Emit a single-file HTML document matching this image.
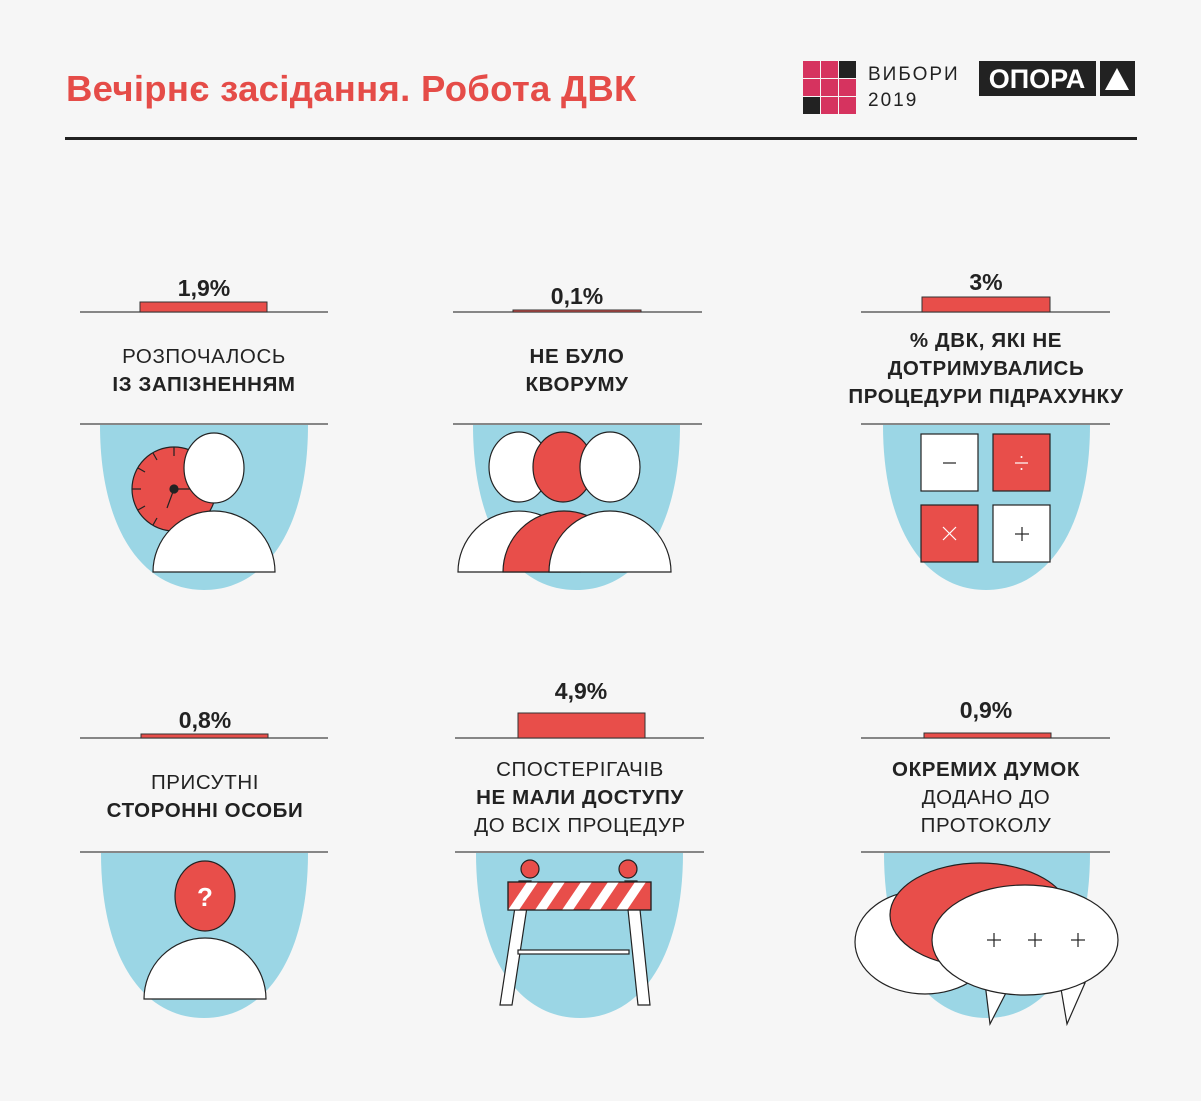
<!DOCTYPE html>
<html><head><meta charset="utf-8"><style>
html,body{margin:0;padding:0;background:#f6f6f6}
svg{display:block}
text{font-family:"Liberation Sans","DejaVu Sans",sans-serif;fill:#222}
.p{font-size:23px;font-weight:bold;text-anchor:middle}
.t{font-size:20.5px;text-anchor:middle;letter-spacing:0.6px}
.b{font-weight:bold}
</style></head><body>
<svg width="1201" height="1101" viewBox="0 0 1201 1101" xmlns="http://www.w3.org/2000/svg">
<rect width="1201" height="1101" fill="#f6f6f6"/>
<text x="66" y="101" style="font-size:36.5px;font-weight:bold;fill:#e54c48;letter-spacing:0.3px">Вечірнє засідання. Робота ДВК</text>
<rect x="65" y="137" width="1072" height="3" fill="#222"/>
<g>
<g fill="#d6335f">
<rect x="803" y="61" width="17" height="17"/><rect x="821" y="61" width="17" height="17"/>
<rect x="803" y="79" width="17" height="17"/><rect x="821" y="79" width="17" height="17"/><rect x="839" y="79" width="17" height="17"/>
<rect x="821" y="97" width="17" height="17"/><rect x="839" y="97" width="17" height="17"/></g>
<rect x="839" y="61" width="17" height="17" fill="#222"/><rect x="803" y="97" width="17" height="17" fill="#222"/>
<text x="868" y="80" style="font-size:19px;letter-spacing:2px">ВИБОРИ</text>
<text x="868" y="106" style="font-size:19px;letter-spacing:2px">2019</text>
<rect x="979" y="61" width="117" height="35" fill="#222"/>
<text x="1037" y="88" style="font-size:27px;font-weight:bold;fill:#fff;text-anchor:middle">ОПОРА</text>
<rect x="1100" y="61" width="35" height="35" fill="#222"/>
<polygon points="1117,68 1129,90 1105,90" fill="#fff"/>
</g>

<g stroke="#444" stroke-width="1.3">
<line x1="80" y1="312" x2="328" y2="312"/><line x1="453" y1="312" x2="702" y2="312"/><line x1="861" y1="312" x2="1110" y2="312"/>
<line x1="80" y1="424" x2="328" y2="424"/><line x1="453" y1="424" x2="702" y2="424"/><line x1="861" y1="424" x2="1110" y2="424"/>
<line x1="80" y1="738" x2="328" y2="738"/><line x1="455" y1="738" x2="704" y2="738"/><line x1="861" y1="738" x2="1110" y2="738"/>
<line x1="80" y1="852" x2="328" y2="852"/><line x1="455" y1="852" x2="704" y2="852"/><line x1="861" y1="852" x2="1110" y2="852"/>
</g>
<g fill="#e84e4a" stroke="#333" stroke-width="1">
<rect x="140" y="302" width="127" height="10"/><rect x="513" y="310" width="128" height="2"/><rect x="922" y="297" width="128" height="15"/>
<rect x="141" y="734" width="127" height="4"/><rect x="518" y="713" width="127" height="25"/><rect x="924" y="733" width="127" height="5"/>
</g>
<text class="p" x="204" y="296">1,9%</text>
<text class="p" x="577" y="304">0,1%</text>
<text class="p" x="986" y="290">3%</text>
<text class="p" x="205" y="728">0,8%</text>
<text class="p" x="581" y="699">4,9%</text>
<text class="p" x="986" y="718">0,9%</text>

<text class="t" x="204" y="363">РОЗПОЧАЛОСЬ</text>
<text class="t b" x="204" y="391">ІЗ ЗАПІЗНЕННЯМ</text>
<text class="t b" x="577" y="363">НЕ БУЛО</text>
<text class="t b" x="577" y="391">КВОРУМУ</text>
<text class="t b" x="986" y="347">% ДВК, ЯКІ НЕ</text>
<text class="t b" x="986" y="375">ДОТРИМУВАЛИСЬ</text>
<text class="t b" x="986" y="403">ПРОЦЕДУРИ ПІДРАХУНКУ</text>
<text class="t" x="205" y="789">ПРИСУТНІ</text>
<text class="t b" x="205" y="817">СТОРОННІ ОСОБИ</text>
<text class="t" x="580" y="776">СПОСТЕРІГАЧІВ</text>
<text class="t b" x="580" y="804">НЕ МАЛИ ДОСТУПУ</text>
<text class="t" x="580" y="832">ДО ВСІХ ПРОЦЕДУР</text>
<text class="t b" x="986" y="776">ОКРЕМИХ ДУМОК</text>
<text class="t" x="986" y="804">ДОДАНО ДО</text>
<text class="t" x="986" y="832">ПРОТОКОЛУ</text>

<g fill="#9bd6e5">
<path d="M100,425 L308,425 C308,530 265,590 204,590 C143,590 100,530 100,425Z"/>
<path d="M473,425 L680,425 C680,530 637,590 576,590 C515,590 473,530 473,425Z"/>
<path d="M883,425 L1090,425 C1090,530 1047,590 986,590 C925,590 883,530 883,425Z"/>
<path d="M101,853 L308,853 C308,958 265,1018 204,1018 C143,1018 101,958 101,853Z"/>
<path d="M476,853 L683,853 C683,958 640,1018 580,1018 C519,1018 476,958 476,853Z"/>
<path d="M884,853 L1090,853 C1090,958 1047,1018 987,1018 C926,1018 884,958 884,853Z"/>
</g>

<g stroke="#222" stroke-width="1.2">
<circle cx="174" cy="489" r="42" fill="#e84e4a"/>
<line x1="174" y1="447" x2="174" y2="456"/><line x1="153" y1="453" x2="157" y2="460"/><line x1="138" y1="468" x2="145" y2="472"/>
<line x1="132" y1="489" x2="141" y2="489"/><line x1="138" y1="510" x2="145" y2="506"/><line x1="153" y1="525" x2="157" y2="518"/>
<line x1="174" y1="489" x2="194" y2="489"/><line x1="174" y1="489" x2="167" y2="508"/>
<circle cx="174" cy="489" r="4" fill="#222"/>
<ellipse cx="214" cy="468" rx="30" ry="35" fill="#fff"/>
<path d="M153,572 A61,61 0 0 1 275,572 Z" fill="#fff"/>
<ellipse cx="519" cy="467" rx="30" ry="35" fill="#fff"/>
<path d="M458,572 A61,61 0 0 1 580,572 Z" fill="#fff"/>
<ellipse cx="563" cy="467" rx="30" ry="35" fill="#e84e4a"/>
<path d="M503,572 A61,61 0 0 1 625,572 Z" fill="#e84e4a"/>
<ellipse cx="610" cy="467" rx="30" ry="35" fill="#fff"/>
<path d="M549,572 A61,61 0 0 1 671,572 Z" fill="#fff"/>
<rect x="921" y="434" width="57" height="57" fill="#fff"/>
<rect x="993" y="434" width="57" height="57" fill="#e84e4a"/>
<rect x="921" y="505" width="57" height="57" fill="#e84e4a"/>
<rect x="993" y="505" width="57" height="57" fill="#fff"/>
<line x1="943" y1="463" x2="956" y2="463"/>
<line x1="1015" y1="463" x2="1028" y2="463" stroke="#fff"/>
<circle cx="1021.5" cy="457" r="1" fill="#fff" stroke="none"/><circle cx="1021.5" cy="469" r="1" fill="#fff" stroke="none"/>
<line x1="943" y1="527" x2="956" y2="540" stroke="#fff"/><line x1="956" y1="527" x2="943" y2="540" stroke="#fff"/>
<line x1="1015" y1="534" x2="1029" y2="534"/><line x1="1022" y1="527" x2="1022" y2="541"/>
<ellipse cx="205" cy="896" rx="30" ry="35" fill="#e84e4a"/>
<path d="M144,999 A61,61 0 0 1 266,999 Z" fill="#fff"/>
<circle cx="530" cy="869" r="9" fill="#e84e4a"/><circle cx="628" cy="869" r="9" fill="#e84e4a"/>
<polygon points="519,881 531,881 512,1005 500,1005" fill="#fff"/>
<polygon points="625,881 637,881 650,1005 638,1005" fill="#fff"/>
<rect x="518" y="950" width="111" height="4" fill="#fff"/>
<rect x="508" y="882" width="143" height="28" fill="#e84e4a"/>
<g fill="#fff" stroke="none">
<polygon points="508,910 527,882 538,882 519,910"/><polygon points="535,910 554,882 565,882 546,910"/>
<polygon points="562,910 581,882 592,882 573,910"/><polygon points="589,910 608,882 619,882 600,910"/>
<polygon points="616,910 635,882 646,882 627,910"/></g>
<rect x="508" y="882" width="143" height="28" fill="none"/>
<ellipse cx="925" cy="942" rx="70" ry="52" fill="#fff"/>
<ellipse cx="980" cy="915" rx="90" ry="52" fill="#e84e4a"/>
<path d="M1010,985 L990,1024 L985,983 Z" fill="#fff"/>
<path d="M1085,983 L1067,1024 L1060,983 Z" fill="#fff"/>
<ellipse cx="1025" cy="940" rx="93" ry="55" fill="#fff"/>
<line x1="987" y1="940" x2="1001" y2="940"/><line x1="994" y1="933" x2="994" y2="947"/>
<line x1="1028" y1="940" x2="1042" y2="940"/><line x1="1035" y1="933" x2="1035" y2="947"/>
<line x1="1071" y1="940" x2="1085" y2="940"/><line x1="1078" y1="933" x2="1078" y2="947"/>
</g>
<text x="205" y="906" style="font-size:26px;font-weight:bold;fill:#fff;text-anchor:middle">?</text>
</svg>
</body></html>
